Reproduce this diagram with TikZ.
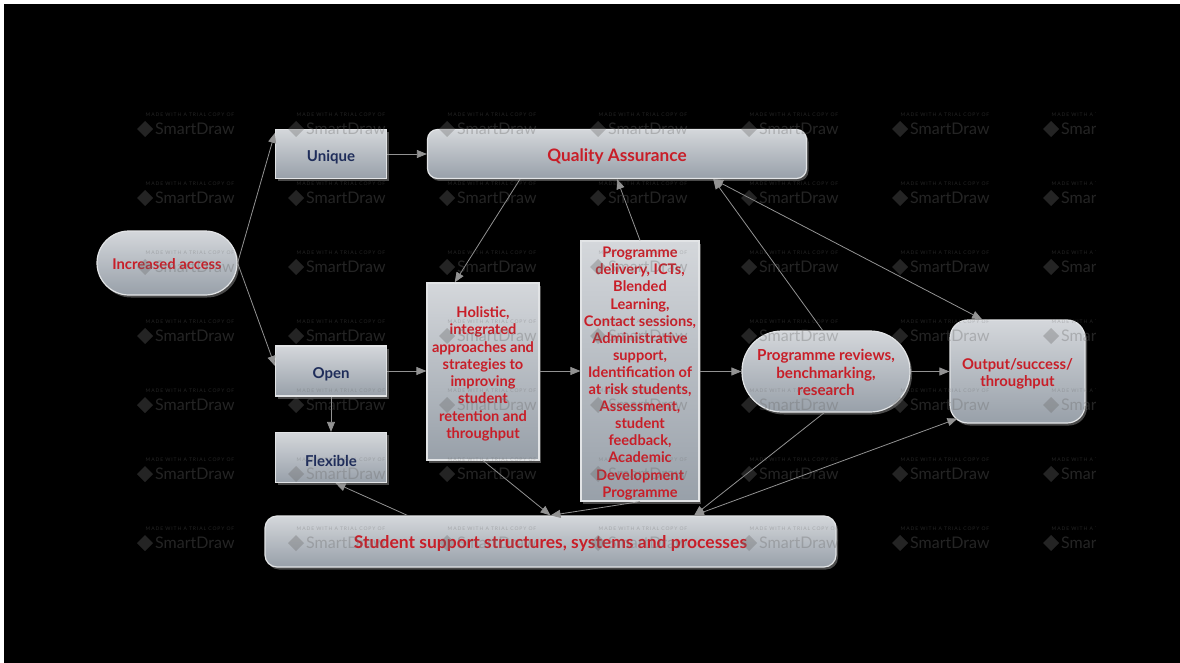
\documentclass[tikz,border=0pt]{standalone}
\usepackage{fontspec}
\setmainfont{Lato}
\newfontfamily\wmfont[LetterSpace=18]{Lato}
\usetikzlibrary{arrows.meta,calc,shadows}
\newcommand\lowertxt[2][3pt]{\raisebox{-#1}[\height][\depth]{#2}}
\definecolor{boxtop}{HTML}{D4D7DB}
\definecolor{boxbot}{HTML}{98A0A9}
\definecolor{boxedge}{HTML}{E2E4E6}
\definecolor{txtred}{HTML}{C81E28}
\definecolor{txtnavy}{HTML}{1F2D5A}
\definecolor{linegrey}{HTML}{929292}
\definecolor{wmgrey}{HTML}{6A6A6A}
\definecolor{shadowgrey}{HTML}{4A4A4A}
\tikzset{
  box/.style={draw=boxedge, line width=1.2pt, top color=boxtop, bottom color=boxbot,
    inner sep=0pt, align=center, text=txtred,
    drop shadow={shadow xshift=2pt, shadow yshift=-2.5pt, fill=shadowgrey, opacity=1}},
  navybox/.style={box, text=txtnavy, font=\bfseries\fontsize{15}{17}\selectfont},
  conn/.style={draw=linegrey, line width=0.8pt, -{Triangle[length=10pt,width=8pt]}},
  bothconn/.style={draw=linegrey, line width=0.8pt, {Triangle[length=10pt,width=8pt]}-{Triangle[length=10pt,width=8pt]}},
  wmsmall/.style={anchor=center, inner sep=0pt, text=wmgrey, text opacity=0.35, font=\wmfont\fontsize{5}{5}\selectfont},
  wmbig/.style={anchor=west, inner sep=0pt, text=wmgrey, text opacity=0.35, font=\fontsize{16}{16}\selectfont}
}
\begin{document}
\begin{tikzpicture}[x=1pt,y=-1pt]
\useasboundingbox (0,0) rectangle (1180,663);
\fill[white] (0,0) rectangle (1180,663);
\fill[black] (4,4) rectangle (1180,663);

% nodes
\node[box, rounded corners=32pt, minimum width=140pt, minimum height=64pt,
  font=\bfseries\fontsize{14.8}{17}\selectfont] (ia) at (167,263) {\lowertxt[1.5pt]{Increased access}};
\node[navybox, minimum width=111pt, minimum height=49pt] (uq) at (331,154) {\lowertxt{Unique}};
\node[box, rounded corners=10pt, minimum width=379pt, minimum height=49pt,
  font=\bfseries\fontsize{17.2}{19}\selectfont] (qa) at (617,154) {\lowertxt{Quality Assurance}};
\node[navybox, minimum width=111pt, minimum height=50pt] (op) at (331,371) {\lowertxt{Open}};
\node[navybox, minimum width=111pt, minimum height=50pt] (fx) at (331,457.5) {\lowertxt{Flexible}};
\node[box, minimum width=112pt, minimum height=177pt,
  font=\bfseries\fontsize{14.6}{17.3}\selectfont] (ho) at (483,371.5)
  {\lowertxt{\begin{tabular}{@{}c@{}}Holistic,\\integrated\\approaches and\\strategies to\\improving\\student\\retention and\\throughput\end{tabular}}};
\node[box, minimum width=118pt, minimum height=260pt,
  font=\bfseries\fontsize{14.6}{17.1}\selectfont] (pd) at (640,371)
  {\lowertxt{\begin{tabular}{@{}c@{}}Programme\\delivery, ICTs,\\Blended\\Learning,\\Contact sessions,\\Administrative\\support,\\Identification of\\at risk students,\\Assessment,\\student\\feedback,\\Academic\\Development\\Programme\end{tabular}}};
\node[box, rounded corners=40pt, minimum width=168pt, minimum height=81pt,
  font=\bfseries\fontsize{15.2}{17.5}\selectfont] (rv) at (826,371.5)
  {\lowertxt{\begin{tabular}{@{}c@{}}Programme reviews,\\benchmarking,\\research\end{tabular}}};
\node[box, rounded corners=18pt, minimum width=135pt, minimum height=103pt,
  font=\bfseries\fontsize{14.8}{17}\selectfont] (ou) at (1017.5,371.5)
  {\lowertxt{\begin{tabular}{@{}c@{}}Output/success/\\throughput\end{tabular}}};
\node[box, rounded corners=12pt, minimum width=571pt, minimum height=51pt,
  font=\bfseries\fontsize{17.5}{19}\selectfont] (ss) at (550.5,541.5)
  {\lowertxt[1.5pt]{Student support structures, systems and processes}};

% connectors
\draw[conn] (ia.east) -- ($(uq.north west)!0.08!(uq.south west)$);
\draw[conn] (ia.east) -- ($(op.north west)!0.4!(op.south west)$);
\draw[conn] (uq.east) -- (qa.west);
\draw[conn] ($(qa.south west)!0.245!(qa.south east)$) -- ($(ho.north west)!0.25!(ho.north east)$);
\draw[conn] (pd.north) -- (qa.south);
\draw[conn] ($(rv.north west)!0.48!(rv.north east)$) -- ($(qa.south west)!0.753!(qa.south east)$);
\draw[bothconn] ($(qa.south west)!0.753!(qa.south east)$) -- ($(ou.north west)!0.24!(ou.north east)$);
\draw[conn] (op.east) -- (ho.west |- op.east);
\draw[conn] (ho.east |- op.east) -- (pd.west |- op.east);
\draw[conn] (pd.east |- rv.west) -- (rv.west);
\draw[conn] (rv.east) -- (ou.west);
\draw[conn] (op.south) -- (fx.north);
\draw[conn] ($(ss.north west)!0.25!(ss.north east)$) -- ($(fx.south west)!0.54!(fx.south east)$);
\draw[conn] (ho.south) -- (ss.north);
\draw[conn] (pd.south) -- (ss.north);
\draw[conn] ($(rv.south west)!0.49!(rv.south east)$) -- ($(ss.north west)!0.751!(ss.north east)$);
\draw[bothconn] ($(ss.north west)!0.751!(ss.north east)$) -- ($(ou.south west)+(8,-5)$);

% watermark
\begin{scope}
\clip (0,0) rectangle (1095,663);
\foreach \cx in {138,289,440,591,742,893,1044} {
  \foreach \ry in {115,184,253,322,391,460,529} {
    \node[wmsmall] (wmt-\cx-\ry) at (\cx+52,\ry) {MADE WITH A TRIAL COPY OF};
    \fill[wmgrey, fill opacity=0.35] (\cx+7,\ry+6) -- (\cx+15,\ry+14) -- (\cx+7,\ry+22) -- (\cx-1,\ry+14) -- cycle;
    \node[wmbig] (wmb-\cx-\ry) at (\cx+17,\ry+14) {SmartDraw};
  }
}
\end{scope}
\end{tikzpicture}
\end{document}
